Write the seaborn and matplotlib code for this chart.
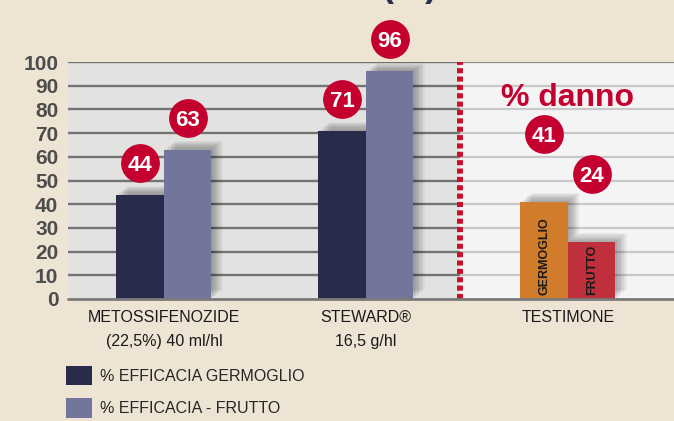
import matplotlib
matplotlib.use("Agg")
import matplotlib.pyplot as plt
import matplotlib.patheffects as pe
import seaborn as sns
import pandas as pd

# values
categories = ["METOSSIFENOZIDE\n(22,5%) 40 ml/hl", "STEWARD\u00ae\n16,5 g/hl", "TESTIMONE"]
eff_series = ["% EFFICACIA GERMOGLIO", "% EFFICACIA - FRUTTO"]
eff_germoglio = [44, 71]
eff_frutto = [63, 96]
danno_series = ["GERMOGLIO", "FRUTTO"]
danno_values = [41, 24]
y_ticks = [0, 10, 20, 30, 40, 50, 60, 70, 80, 90, 100]

navy = "#292b4a"
lavender = "#73769b"
orange = "#d07c2a"
crimson = "#bf303c"
badge_red = "#c4002f"
bg = "#ede4d4"

sns.set_style("white")
plt.rcParams["font.family"] = ["Liberation Sans", "DejaVu Sans"]

df_eff = pd.DataFrame({
    "categoria": categories[:2] * 2,
    "serie": [eff_series[0]] * 2 + [eff_series[1]] * 2,
    "valore": eff_germoglio + eff_frutto,
})
df_danno = pd.DataFrame({
    "categoria": [categories[2]] * 2,
    "serie": danno_series,
    "valore": danno_values,
})

fig = plt.figure(figsize=(6.74, 4.21), dpi=100, facecolor=bg)
ax = fig.add_axes([68 / 674, 1 - 299 / 421, 606 / 674, 237 / 421])

sns.barplot(data=df_eff, x="categoria", y="valore", hue="serie", order=categories,
            palette=[navy, lavender], width=0.47, saturation=1, linewidth=0,
            ax=ax, zorder=3)
sns.barplot(data=df_danno, x="categoria", y="valore", hue="serie", order=categories,
            hue_order=danno_series, palette=[orange, crimson], width=0.47,
            saturation=1, linewidth=0, ax=ax, legend=False, zorder=3)

x_lo, x_hi, split = -0.475, 2.525, 1.465
ax.set_xlim(x_lo, x_hi)
ax.set_ylim(0, 100)

# two panel backgrounds and their grid lines
ax.set_facecolor("none")
ax.axvspan(x_lo, split, color="#e2e3e1", zorder=0)
ax.axvspan(split, x_hi, color="#f4f4f4", zorder=0)
for t in y_ticks[1:]:
    ax.hlines(t, x_lo, split, color="#737373", lw=1.7, zorder=1)
    ax.hlines(t, split, x_hi, color="#c8c8c8" if t < 100 else "#8a8a8a", lw=1.6, zorder=1)
ax.axhline(0, color="#7a7a7a", lw=2, zorder=4, clip_on=False)
ax.axvline(split, color="#c8102e", lw=4.3, linestyle=(0, (0.85, 0.55)),
           solid_capstyle="butt", dash_capstyle="butt", zorder=2)

for s in ax.spines.values():
    s.set_visible(False)

# soft shadow behind bars
shadow = [pe.SimplePatchShadow(offset=(o, o * 0.8), shadow_rgbFace="black", alpha=0.045)
          for o in (1, 2, 3, 4, 5, 6, 7, 8)] + [pe.Normal()]
for bar in ax.patches:
    if bar.get_height() > 0:
        bar.set_path_effects(shadow)

# red badges with values
def badge(x, y, txt):
    ax.scatter([x], [y], s=780, color=badge_red, zorder=6, clip_on=False, linewidths=0)
    ax.text(x, y, txt, ha="center", va="center_baseline", color="white", fontsize=16,
            fontweight="bold", zorder=7, clip_on=False)

for cont in ax.containers[:2]:
    for bar in cont:
        h = bar.get_height()
        if h > 0:
            badge(bar.get_x() + bar.get_width() / 2, h + 13.5, f"{h:.0f}")
danno_bars = [b for cont in ax.containers[2:] for b in cont if b.get_height() > 0]
for bar, name in zip(danno_bars, danno_series):
    h = bar.get_height()
    badge(bar.get_x() + bar.get_width() / 2, h + 28.6, f"{h:.0f}")
    ax.text(bar.get_x() + bar.get_width() / 2, 1.8, name, rotation=90, ha="center",
            va="bottom", fontsize=9, fontweight="bold", color="#1a1a1a", zorder=5)

ax.text(2, 85, "% danno", ha="center", va="center", fontsize=23, fontweight="bold",
        color=badge_red, zorder=5)

ax.set_xlabel("")
ax.set_ylabel("")
ax.set_yticks(y_ticks)
ax.tick_params(axis="y", length=0, pad=7, labelsize=15, labelcolor="#4d4d4d")
ax.tick_params(axis="x", length=0, pad=8, labelsize=11.5, labelcolor="#1a1a1a")
for lab in ax.get_yticklabels():
    lab.set_fontweight("bold")
for lab in ax.get_xticklabels():
    lab.set_linespacing(1.75)

sns.move_legend(ax, "upper left", bbox_to_anchor=(66 / 674, 1 - 366 / 421),
                bbox_transform=fig.transFigure, frameon=False, title=None,
                fontsize=11.5, handlelength=1.6, handleheight=1.5, labelspacing=0.8,
                handletextpad=0.5, borderpad=0, borderaxespad=0)

fig.text(409 / 674, 1 + 4 / 421, "(%)", ha="center", va="baseline", fontsize=26,
         fontweight="bold", color="#2c2e4b")

fig.savefig("out.png", dpi=100, facecolor=bg)
